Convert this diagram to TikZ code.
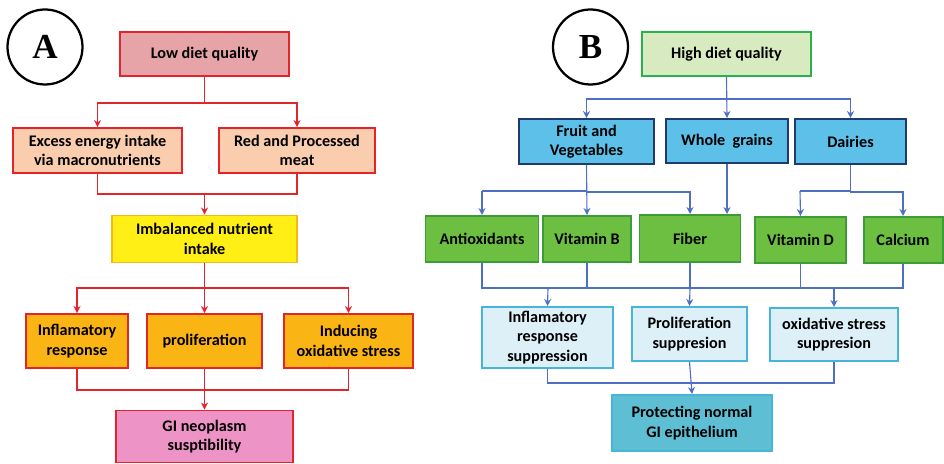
\documentclass[tikz,border=0pt]{standalone}
\usepackage{fontspec}
\setmainfont{Carlito}
\newfontfamily\lettfont{Liberation Serif}
\usetikzlibrary{arrows.meta}
\definecolor{redln}{HTML}{E3242B}
\definecolor{lowfill}{HTML}{E6A3A8}
\definecolor{peach}{HTML}{F9CDAE}
\definecolor{imbfill}{HTML}{FFEF14}
\definecolor{imbline}{HTML}{F5B81A}
\definecolor{orfill}{HTML}{FAB414}
\definecolor{pinkfill}{HTML}{EE93C6}
\definecolor{hifill}{HTML}{D8EAC0}
\definecolor{hiline}{HTML}{27B24A}
\definecolor{skyfill}{HTML}{5CC0E8}
\definecolor{navyln}{HTML}{1F3A6E}
\definecolor{grfill}{HTML}{6DBF42}
\definecolor{grline}{HTML}{3C9C36}
\definecolor{palefill}{HTML}{DDF0F8}
\definecolor{cyanln}{HTML}{45B6D8}
\definecolor{protfill}{HTML}{5EBFD4}
\definecolor{blueln}{HTML}{4F6FC4}

\begin{document}
\begin{tikzpicture}[x=0.025cm,y=-0.025cm,
  box/.style={rectangle,draw,line width=1.4pt,align=center,inner sep=1pt,
    font=\fontsize{11.5}{13.7}\selectfont\bfseries},
  sz/.style 2 args={minimum width=#1*0.025cm,minimum height=#2*0.025cm},
  lett/.style={circle,draw,line width=1.6pt,minimum size=75*0.025cm,inner sep=0pt,
    font=\lettfont\fontsize{25}{25}\selectfont\bfseries},
  ra/.style={redln,line width=0.8pt,-{Stealth[length=5pt,width=5pt]}},
  rl/.style={redln,line width=0.8pt},
  ba/.style={blueln,line width=0.8pt,-{Stealth[length=5pt,width=5pt]}},
  bl/.style={blueln,line width=0.8pt}]
\useasboundingbox (0,0) rectangle (944,464);

% A : low diet quality
\node [lett] (la) at (45,47) {A};
\node [box,sz={169}{44},draw=redln,fill=lowfill] (low) at (204.5,54) {Low diet quality};
\node [box,sz={169}{45},draw=redln,fill=peach] (exc) at (97.5,150.5) {Excess energy intake\\via macronutrients};
\node [box,sz={156}{45},draw=redln,fill=peach] (meat) at (297,150.5) {Red and Processed\\meat};
\node [box,sz={185}{47},draw=imbline,fill=imbfill] (imb) at (204.5,239) {Imbalanced nutrient\\intake};
\node [box,sz={102}{54},draw=redln,fill=orfill] (infl) at (77,341) {Inflamatory\\response};
\node [box,sz={115}{54},draw=redln,fill=orfill] (prol) at (204.5,341) {proliferation};
\node [box,sz={129}{54},draw=redln,fill=orfill] (oxid) at (348.5,341) {Inducing\\oxidative stress};
\node [box,sz={177}{52},draw=redln,fill=pinkfill] (gi) at (204.5,436.5) {GI neoplasm\\susptibility};

\coordinate (ja) at (204.5,194);
\coordinate (jb) at (204.5,288);
\coordinate (jc) at (204.5,390);

\draw [ra] (low.south) -- ++(0,26) -| (exc.north);
\draw [ra] (low.south) -- ++(0,26) -| (meat.north);
\draw [rl] (exc.south) |- (ja) -| (meat.south);
\draw [ra] (ja) -- (imb.north);
\draw [rl] (imb.south) -- (jb);
\draw [ra] (jb) -| (infl.north);
\draw [ra] (jb) -- (prol.north);
\draw [ra] (jb) -| (oxid.north);
\draw [rl] (infl.south) |- (jc) -| (oxid.south);
\draw [ra] (prol.south) -- (gi.north);

% B : high diet quality
\node [lett] (lb) at (590.5,47) {B};
\node [box,sz={169}{44},draw=hiline,fill=hifill] (high) at (726.5,54) {High diet quality};
\node [box,sz={135}{45},draw=navyln,fill=skyfill] (fruit) at (586.5,141.5) {Fruit and\\Vegetables};
\node [box,sz={122}{44},draw=navyln,fill=skyfill] (grain) at (727,141) {Whole~ grains};
\node [box,sz={111}{45},draw=navyln,fill=skyfill] (dairy) at (850.5,141.5) {Dairies};
\node [box,sz={113}{46},draw=grline,fill=grfill] (anti) at (482,239) {Antioxidants};
\node [box,sz={88}{46},draw=grline,fill=grfill] (vitb) at (587,239) {Vitamin B};
\node [box,sz={101}{47},draw=grline,fill=grfill] (fiber) at (690,238.5) {Fiber};
\node [box,sz={91}{46},draw=grline,fill=grfill] (vitd) at (800.5,240) {Vitamin D};
\node [box,sz={79}{46},draw=grline,fill=grfill] (calc) at (903,240) {Calcium};
\node [box,sz={131}{61},draw=cyanln,fill=palefill] (sinf) at (547.5,337.5) {Inflamatory\\response\\suppression};
\node [box,sz={115}{54},draw=cyanln,fill=palefill] (sprol) at (689.5,334) {Proliferation\\suppresion};
\node [box,sz={128}{53},draw=cyanln,fill=palefill] (sox) at (834,334.5) {oxidative stress\\suppresion};
\node [box,sz={160}{56},draw=cyanln,fill=protfill] (prot) at (692,423) {Protecting normal\\GI epithelium};

\coordinate (jd) at (482,191);
\coordinate (je) at (800,191);
\coordinate (jf) at (548,288);
\coordinate (jg) at (834,288);
\coordinate (jh) at (690,383);

\draw [ba] (high.south) -- ++(0,22) -| (fruit.north);
\draw [ba] (high.south) -- (grain.north);
\draw [ba] (high.south) -- ++(0,22) -| (dairy.north);
\draw [bl] (fruit.south) |- (jd);
\draw [ba] (jd) -- (anti.north);
\draw [ba] (fruit.south) -- (vitb.north);
\draw [ba] (fruit.south) |- ++(0,27) -| (fiber.north);
\draw [ba] (grain.south) -- (grain.south |- fiber.north);
\draw [bl] (dairy.south) |- (je);
\draw [ba] (je) -- (vitd.north);
\draw [ba] (dairy.south) |- ++(0,27) -| (calc.north);
\draw [bl] (anti.south) |- (jg);
\draw [bl] (vitb.south) -- (vitb.south |- jf);
\draw [bl] (fiber.south) -- (fiber.south |- jf);
\draw [bl] (vitd.south) -- (vitd.south |- jf);
\draw [bl] (calc.south) |- (jg);
\draw [ba] (jf) -- (sinf.north);
\draw [ba] (fiber.south |- jf) -- (sprol.north);
\draw [ba] (jg) -- (sox.north);
\draw [bl] (sinf.south) |- (jh) -| (sox.south);
\draw [ba] (sprol.south) -- (prot.north);
\end{tikzpicture}
\end{document}
